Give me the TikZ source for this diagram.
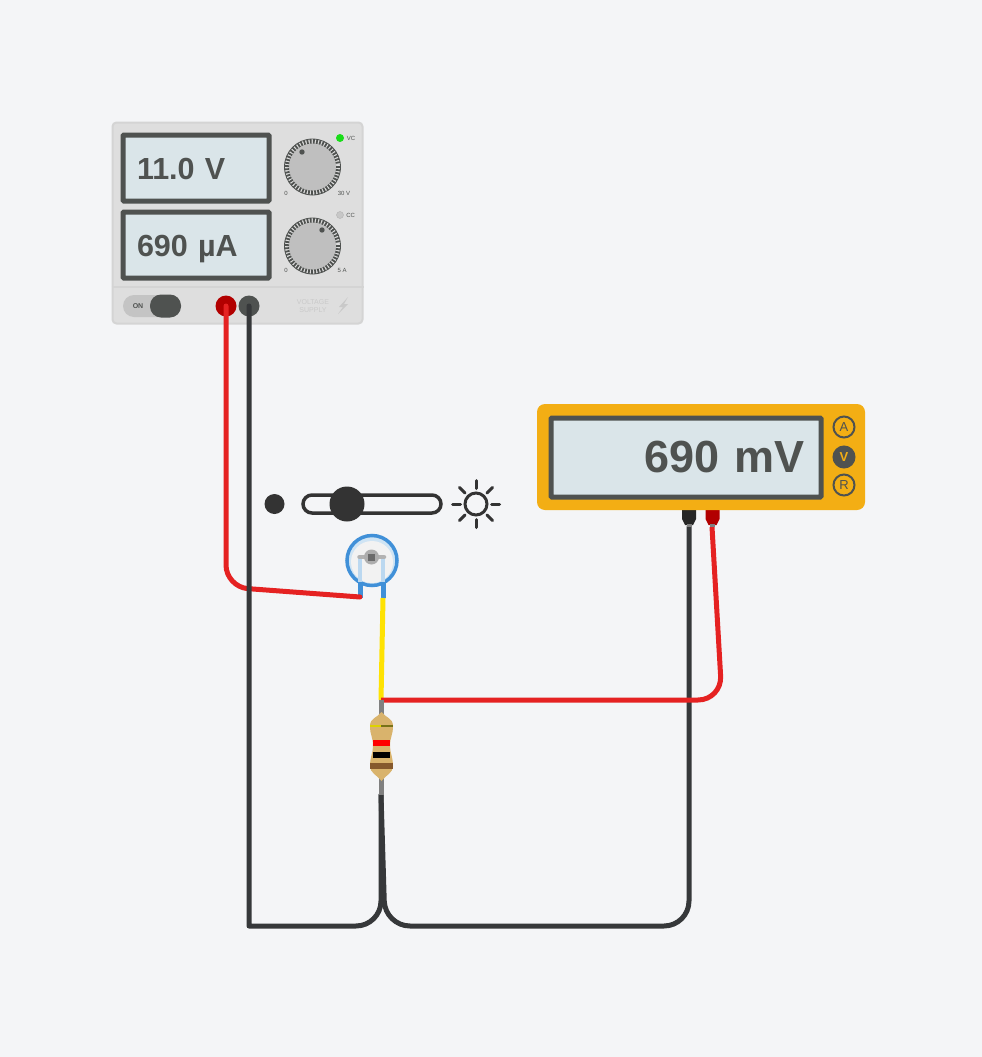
\documentclass[tikz,border=0pt]{standalone}
\usepackage{fontspec}
\usetikzlibrary{positioning}
\setmainfont{Liberation Sans}
\definecolor{mybg}{HTML}{F4F5F7}
\definecolor{mydark}{HTML}{4F5250}
\definecolor{myscreen}{HTML}{DAE5E9}
\definecolor{myorange}{HTML}{F3AE14}
\definecolor{myred}{HTML}{E52222}
\definecolor{myblack}{HTML}{36383A}
\definecolor{myblue}{HTML}{4090D8}
\definecolor{mypale}{HTML}{BBD8F0}
\definecolor{mysun}{HTML}{333333}
\definecolor{mytan}{HTML}{D9B36C}
\definecolor{myface}{HTML}{DEDEDE}
\definecolor{myfaint}{HTML}{C9C9C9}
\tikzstyle{screen} = [rectangle, draw=mydark, fill=myscreen, line width=5pt, rounded corners=1pt, text=mydark, outer sep=0pt, text height=22pt, text depth=0pt]
\tikzstyle{supplyscreen} = [screen, anchor=north west, minimum width=146pt, minimum height=66pt, text width=118pt, inner xsep=14pt, align=left, font=\fontsize{30.5}{30.5}\selectfont\bfseries]
\tikzstyle{tinytext} = [text=mydark, font=\fontsize{6}{7}\selectfont, inner sep=0pt]
\tikzstyle{wire} = [draw, line width=5pt, line cap=round, line join=round]
\tikzstyle{post} = [circle, minimum size=21pt, inner sep=0pt, outer sep=0pt]
\tikzstyle{rangebtn} = [circle, draw=mydark, line width=2pt, minimum size=21pt, inner sep=0pt, font=\fontsize{13}{13}\selectfont]

\begin{document}
\begin{tikzpicture}[x=1pt, y=-1pt]
    \fill[mybg] (0,0) rectangle (982,1057);
    \useasboundingbox (0,0) rectangle (982,1057);

    % supply
    \node [rectangle, draw=black!17, fill=myface, line width=2pt, rounded corners=4pt, minimum width=250pt, minimum height=201pt, inner sep=0pt] (supply) at (237.5,223) {};
    \draw [black!17, line width=2pt] (supply.west |- 0,287) -- (supply.east |- 0,287);
    \node [supplyscreen] (volts) at (123,135) {11.0 V};
    \node [supplyscreen] (amps) at (123,212) {690 µA};

    % knobs
    \foreach \y/\dotx/\doty in {167/302/152, 246/322/230} {
        \fill [black!25] (312.5,\y) circle [radius=24];
        \foreach \a in {0,7,...,353} {
            \draw [mydark, line width=1.8pt] (312.5,\y) ++(\a:23.5) -- ++(\a:4.5);
        }
        \draw [mydark, line width=0.8pt] (312.5,\y) circle [radius=28];
        \fill [mydark] (\dotx,\doty) circle [radius=2.7];
    }
    \node [circle, fill=green!85!black!90, minimum size=8pt, inner sep=0pt] (vcled) at (340,138) {};
    \node [circle, fill=black!22, draw=black!30, minimum size=7pt, inner sep=0pt] (ccled) at (340,215) {};
    \node [tinytext, right=2.5pt of vcled] (vclabel) {VC};
    \node [tinytext, right=2.5pt of ccled] (cclabel) {CC};
    \node [tinytext] (vzero) at (286,193) {0};
    \node [tinytext] (vmax) at (344,193) {30 V};
    \node [tinytext] (azero) at (286,270) {0};
    \node [tinytext] (amax) at (342,270) {5 A};

    % switch, posts
    \node [rectangle, fill=black!23, rounded corners=11pt, minimum width=58pt, minimum height=22pt, inner sep=0pt] (switch) at (152,306) {};
    \node [rectangle, fill=mydark, rounded corners=11pt, minimum width=31pt, minimum height=23pt, inner sep=0pt] (handle) at (165.5,306) {};
    \node [text=mydark, font=\fontsize{7}{7}\selectfont\bfseries, inner sep=0pt] (onlabel) at (138,306) {ON};
    \node [post, fill=red!70!black] (redpost) at (226,306) {};
    \node [post, fill=mydark] (blackpost) at (249,306) {};
    \node [text=myfaint, align=center, font=\fontsize{7}{8.5}\selectfont, inner sep=0pt] (brand) at (313,306) {VOLTAGE\\SUPPLY};
    \fill [myfaint] (348,297) -- (339,307) -- (343,307) -- (338,314) -- (348,304) -- (344,304) -- cycle;

    % meter
    \fill [black!85] (682,510) -- (696,510) -- (696,519) -- (693,525) -- (685,525) -- (682,519) -- cycle;
    \fill [red!70!black] (705.5,510) -- (719.5,510) -- (719.5,519) -- (716.5,525) -- (708.5,525) -- (705.5,519) -- cycle;
    \node [rectangle, fill=myorange, rounded corners=8pt, minimum width=328pt, minimum height=106pt, inner sep=0pt] (meter) at (701,457) {};
    \node [screen, minimum width=270pt, minimum height=79pt, text width=237pt, inner xsep=16.5pt, align=right, text height=33pt, text depth=3pt, font=\fontsize{45}{45}\selectfont\bfseries] (reading) at (686,457.5) {690 mV};
    \node [rangebtn, fill=myorange, text=mydark] (rangea) at (844,427) {A};
    \node [rangebtn, fill=mydark, text=myorange, font=\fontsize{13}{13}\selectfont\bfseries] (rangev) at (844,457) {V};
    \node [rangebtn, fill=myorange, text=mydark] (ranger) at (844,485) {R};

    % light slider
    \node [circle, fill=mysun, minimum size=20pt, inner sep=0pt] (darkdot) at (274.5,504) {};
    \node [rectangle, draw=mysun, line width=3.5pt, rounded corners=9pt, minimum width=138pt, minimum height=18pt, inner sep=0pt] (track) at (372,504) {};
    \node [circle, fill=mysun, minimum size=35pt, inner sep=0pt] (thumb) at (347,504) {};
    \node [circle, draw=mysun, line width=3pt, minimum size=22pt, inner sep=0pt] (sun) at (476,504) {};
    \foreach \a in {0,45,...,315} {
        \draw [mysun, line width=3pt, line cap=round] (sun.center) ++(\a:15.5) -- ++(\a:8);
    }

    % photoresistor
    \draw [myblue, line width=5pt] (360,582) -- (360,598);
    \draw [myblue, line width=5pt] (383,582) -- (383,598);
    \node [circle, draw=myblue, fill=mypale!70!white, line width=3.5pt, minimum size=50pt, inner sep=0pt] (ldr) at (372,560.5) {};
    \fill [white!95!black] (372,562) circle [radius=21];
    \draw [mypale, line width=4.5pt] (360,558) -- (360,582);
    \draw [mypale, line width=4.5pt] (383,558) -- (383,582);
    \draw [black!30, line width=4.5pt, line cap=round] (359.5,557) -- (384,557);
    \node [circle, fill=black!32, minimum size=15pt, inner sep=0pt] (cell) at (371.5,557) {};
    \node [rectangle, fill=black!58, minimum size=7pt, inner sep=0pt] (cellcore) at (cell) {};

    % wire ends
    \coordinate (ldrleft) at (360,597);
    \coordinate (ldrright) at (383,598);
    \coordinate (restop) at (381,700);
    \coordinate (resbottom) at (381,795);
    \coordinate (meterblack) at (689,527);
    \coordinate (meterred) at (712,527);
    \coordinate (redbend) at (226,587);
    \coordinate (blackbend) at (249,926);
    \coordinate (forkleft) at (381,926);
    \coordinate (forkright) at (385,926);
    \coordinate (meterbend) at (689,926);
    \coordinate (probebend) at (722,700);

    % wires
    \draw [wire, myred, rounded corners=22pt] (redpost.center) -- (redbend) -- (ldrleft);
    \draw [wire, myblack] (blackpost.center) -- (blackbend) [rounded corners=25pt] -- (forkleft) -- (resbottom);
    \draw [wire, myblack, rounded corners=25pt] (meterblack) -- (meterbend) -- (forkright) -- (resbottom);
    \draw [wire, line cap=butt, yellow!85!orange] (ldrright) -- (restop);
    \draw [wire, myred, line cap=butt, rounded corners=24pt] (meterred) -- (probebend) -- (restop);

    % probe tips
    \draw [black!50, line width=5pt] (689,524) -- (meterblack);
    \draw [black!50, line width=5pt] (712,524) -- (meterred);

    % resistor
    \draw [black!50, line width=5pt] (restop) -- (resbottom);
    \fill [mytan] (381.5,712) .. controls (377,718) and (370,718) .. (370,726) .. controls (370,735) and (373,737) .. (373,746) .. controls (373,753) and (370,757) .. (370,766) .. controls (370,773) and (377,775) .. (381.5,781) .. controls (386,775) and (393,773) .. (393,766) .. controls (393,757) and (390,753) .. (390,746) .. controls (390,737) and (393,735) .. (393,726) .. controls (393,718) and (386,718) .. (381.5,712) -- cycle;
    \fill [yellow!70!olive] (370,725) rectangle (381,727);
    \fill [olive!80!black] (381,725) rectangle (392.5,727);
    \fill [red] (372.7,740) rectangle (390.3,745.5);
    \fill [black] (372.7,752) rectangle (390.3,757.5);
    \fill [brown!70!black] (370,763) rectangle (393,769);
\end{tikzpicture}
\end{document}
